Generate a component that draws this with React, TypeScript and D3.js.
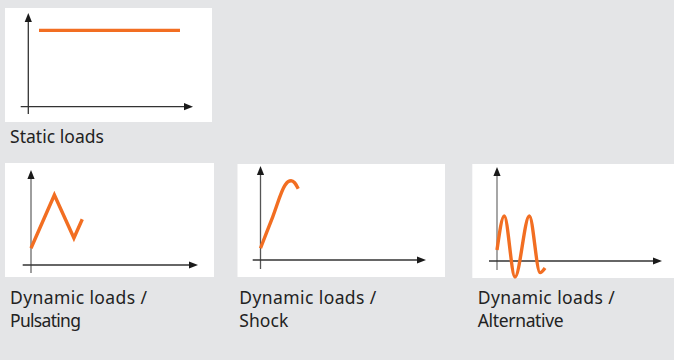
import React from "react";
import * as d3 from "d3";

// ---- data (x = time, y = load; both in % of the axis length) ----
const panelTitles = ["Static loads", "Dynamic loads /", "Dynamic loads /", "Dynamic loads /"];
const panelSubtitles = ["", "Pulsating", "Shock", "Alternative"];

const staticX = [6.5, 92.1];
const staticY = [81.5, 81.5];

const pulsatingX = [0, 14, 25.7, 30.7];
const pulsatingY = [17.6, 73.7, 28.4, 48.1];

const shockX = [0, 7.4, 14.8, 16.6, 18.5, 20.6, 22.8];
const shockY = [12.5, 46, 79.5, 83.3, 84.3, 82.2, 75.8];

const alternativeX = [0, 4.4, 10.9, 19.6, 26.1, 29.1];
const alternativeY = [11.7, 47.9, -17, 47.9, -12.4, -7.4];

const W = 674;
const H = 360;
const BG = "#e4e5e7";
const ORANGE = "#f26e22";
const TEXT = "#222222";
const FONT = "'Noto Sans', 'Liberation Sans', sans-serif";

// rendered label widths (style) to mimic the reference typeface
const titleWidths = [94, 137, 137, 137];
const subtitleWidths = [0, 71, 49, 86];

type Layout = {
  box: [number, number, number, number]; // x0, y0, x1, y1
  origin: [number, number];
  xTip: number;
  yTip: number;
  xStart: number;
  yEnd: number;
  yAxisColor: string;
  textX: number;
  textY: number;
};

const layouts: Layout[] = [
  { box: [5, 8, 212, 122], origin: [28.3, 106.7], xTip: 193, yTip: 13, xStart: 20.7, yEnd: 114, yAxisColor: "#333", textX: 10, textY: 143 },
  { box: [5, 163, 214, 277], origin: [31, 265], xTip: 198, yTip: 170, xStart: 22.7, yEnd: 273, yAxisColor: "#6a6a6a", textX: 10, textY: 304 },
  { box: [237.5, 164, 445, 277], origin: [260.5, 260], xTip: 426, yTip: 166, xStart: 252.7, yEnd: 269, yAxisColor: "#555", textX: 239.3, textY: 304 },
  { box: [472.3, 164, 674, 278], origin: [497, 261], xTip: 662, yTip: 167, xStart: 489, yEnd: 270, yAxisColor: "#777", textX: 477.7, textY: 304 },
];

const series: { xs: number[]; ys: number[]; curve: d3.CurveFactory }[] = [
  { xs: staticX, ys: staticY, curve: d3.curveLinear },
  { xs: pulsatingX, ys: pulsatingY, curve: d3.curveLinear },
  { xs: shockX, ys: shockY, curve: d3.curveMonotoneX },
  { xs: alternativeX, ys: alternativeY, curve: d3.curveMonotoneX },
];

function Panel({ idx }: { idx: number }) {
  const L = layouts[idx];
  const s = series[idx];
  const x = d3.scaleLinear().domain([0, 100]).range([L.origin[0], L.xTip]);
  const y = d3.scaleLinear().domain([0, 100]).range([L.origin[1], L.yTip]);
  const pts: [number, number][] = s.xs.map((v, i) => [v, s.ys[i]]);
  const line = d3
    .line<[number, number]>()
    .x((d) => x(d[0]))
    .y((d) => y(d[1]))
    .curve(s.curve);
  const [bx0, by0, bx1, by1] = L.box;
  const ox = L.origin[0];
  const oy = L.origin[1];
  const aL = 9; // arrow length
  const aW = 3.6; // arrow half width
  return (
    <g>
      <rect x={bx0} y={by0} width={bx1 - bx0} height={by1 - by0} fill="#ffffff" />
      {/* y axis */}
      <line x1={ox} y1={L.yEnd} x2={ox} y2={L.yTip + aL - 1} stroke={L.yAxisColor} strokeWidth={1.3} />
      <path
        d={`M${ox},${L.yTip} L${ox - aW},${L.yTip + aL} L${ox + aW},${L.yTip + aL} Z`}
        fill="#1a1a1a"
      />
      {/* x axis */}
      <line x1={L.xStart} y1={oy} x2={L.xTip - aL + 1} y2={oy} stroke="#333" strokeWidth={1.3} />
      <path
        d={`M${L.xTip},${oy} L${L.xTip - aL},${oy - aW} L${L.xTip - aL},${oy + aW} Z`}
        fill="#1a1a1a"
      />
      <path d={line(pts) || ""} fill="none" stroke={ORANGE} strokeWidth={3.4} strokeLinejoin="miter" strokeLinecap="butt" />
      <text
        x={L.textX}
        y={L.textY}
        fontFamily={FONT}
        fontSize={17.5}
        fill={TEXT}
        textLength={titleWidths[idx]}
        lengthAdjust="spacing"
      >
        {panelTitles[idx]}
      </text>
      {panelSubtitles[idx] && (
        <text
          x={L.textX}
          y={L.textY + 22.7}
          fontFamily={FONT}
          fontSize={17.5}
          fill={TEXT}
          textLength={subtitleWidths[idx]}
          lengthAdjust="spacing"
        >
          {panelSubtitles[idx]}
        </text>
      )}
    </g>
  );
}

export default function App() {
  return (
    <div style={{ position: "fixed", left: 0, top: 0 }}>
      <svg width={W} height={H} style={{ display: "block" }}>
        <rect x={0} y={0} width={W} height={H} fill={BG} />
        {layouts.map((_, i) => (
          <Panel key={i} idx={i} />
        ))}
      </svg>
    </div>
  );
}
